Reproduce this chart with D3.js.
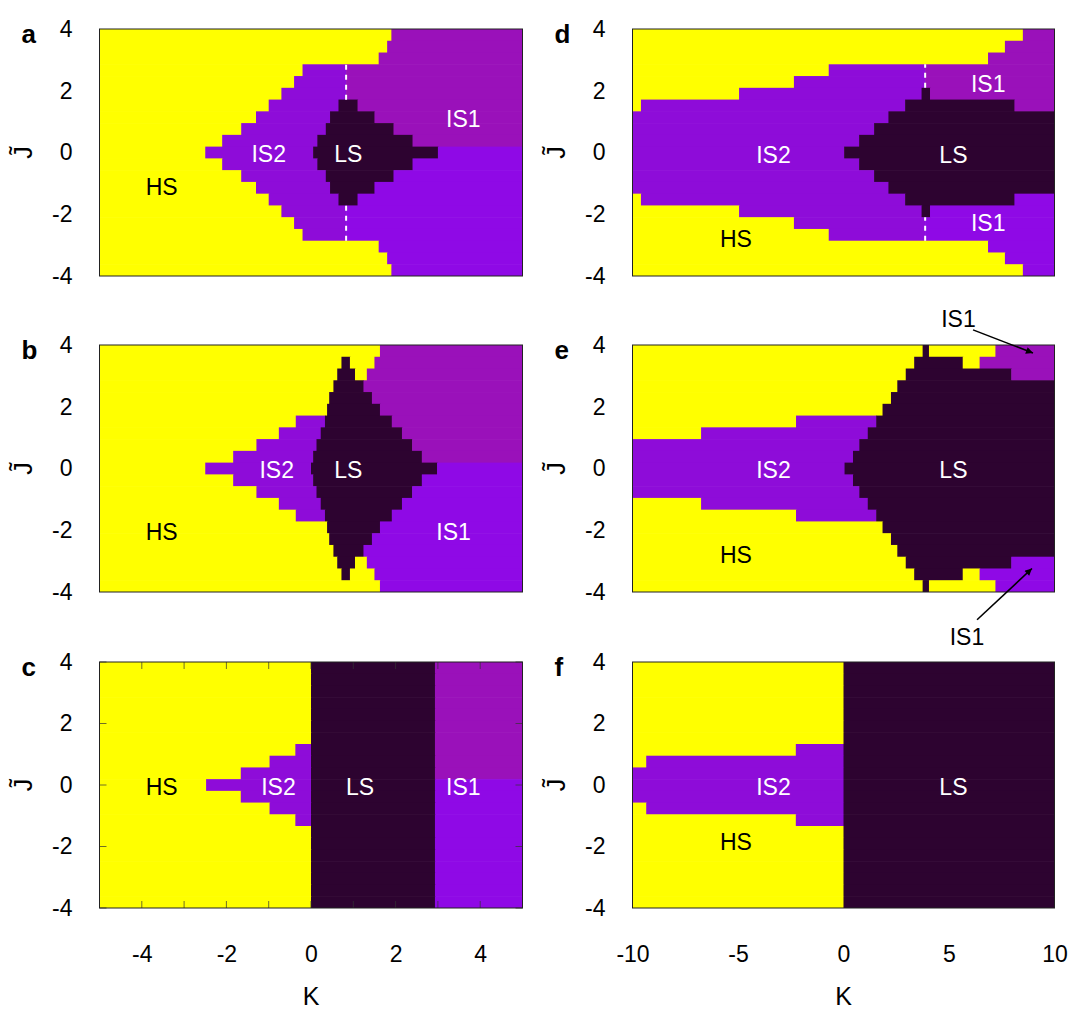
<!DOCTYPE html>
<html>
<head>
<meta charset="utf-8">
<script src="https://cdn.jsdelivr.net/npm/d3@7"></script>
<style>
  body { margin: 0; background: #fff; }
  text { font-family: "Liberation Sans", Arial, Helvetica, sans-serif; }
</style>
</head>
<body>
<svg id="chart" width="1075" height="1013"></svg>
<script>
// phase colours
var phaseColors = {
  HS: "#ffff00",
  IS2: "#8e0cd9",
  LS: "#2d0330",
  IS1u: "#9a11ba",
  IS1l: "#8f09e6"
};

var jTicks = [-4, -2, 0, 2, 4];
var kTicksLeft = [-4, -2, 0, 2, 4];
var kTicksRight = [-10, -5, 0, 5, 10];
var kMinorC = [-4, -3, -2, -1, 0, 1, 2, 3, 4];

// each row (top -> bottom, 21 rows over J in [-4,4]) : phase, K where it ends, phase, ...
var cellsA = [
  ["HS", 1.9, "IS1u", 5],
  ["HS", 1.8, "IS1u", 5],
  ["HS", 1.6, "IS1u", 5],
  ["HS", -0.2, "IS2", 0.83, "IS1u", 5],
  ["HS", -0.4, "IS2", 0.83, "IS1u", 5],
  ["HS", -0.7, "IS2", 0.83, "IS1u", 5],
  ["HS", -1.0, "IS2", 0.65, "LS", 1.1, "IS1u", 5],
  ["HS", -1.3, "IS2", 0.45, "LS", 1.5, "IS1u", 5],
  ["HS", -1.65, "IS2", 0.35, "LS", 1.95, "IS1u", 5],
  ["HS", -2.1, "IS2", 0.15, "LS", 2.4, "IS1u", 5],
  ["HS", -2.5, "IS2", 0.05, "LS", 3.0, "IS1l", 5],
  ["HS", -2.1, "IS2", 0.15, "LS", 2.4, "IS1l", 5],
  ["HS", -1.65, "IS2", 0.35, "LS", 1.95, "IS1l", 5],
  ["HS", -1.3, "IS2", 0.45, "LS", 1.5, "IS1l", 5],
  ["HS", -1.0, "IS2", 0.65, "LS", 1.1, "IS1l", 5],
  ["HS", -0.7, "IS2", 0.83, "IS1l", 5],
  ["HS", -0.4, "IS2", 0.83, "IS1l", 5],
  ["HS", -0.2, "IS2", 0.83, "IS1l", 5],
  ["HS", 1.6, "IS1l", 5],
  ["HS", 1.8, "IS1l", 5],
  ["HS", 1.9, "IS1l", 5]
];

var cellsB = [
  ["HS", 1.63, "IS1u", 5],
  ["HS", 0.72, "LS", 0.92, "HS", 1.5, "IS1u", 5],
  ["HS", 0.62, "LS", 1.04, "HS", 1.32, "IS1u", 5],
  ["HS", 0.53, "LS", 1.24, "IS1u", 5],
  ["HS", 0.43, "LS", 1.44, "IS1u", 5],
  ["HS", 0.38, "LS", 1.63, "IS1u", 5],
  ["HS", -0.36, "IS2", 0.33, "LS", 1.91, "IS1u", 5],
  ["HS", -0.76, "IS2", 0.23, "LS", 2.15, "IS1u", 5],
  ["HS", -1.29, "IS2", 0.13, "LS", 2.39, "IS1u", 5],
  ["HS", -1.84, "IS2", 0.05, "LS", 2.62, "IS1u", 5],
  ["HS", -2.5, "IS2", 0.0, "LS", 2.98, "IS1l", 5],
  ["HS", -1.84, "IS2", 0.05, "LS", 2.62, "IS1l", 5],
  ["HS", -1.29, "IS2", 0.13, "LS", 2.39, "IS1l", 5],
  ["HS", -0.76, "IS2", 0.23, "LS", 2.15, "IS1l", 5],
  ["HS", -0.36, "IS2", 0.33, "LS", 1.91, "IS1l", 5],
  ["HS", 0.38, "LS", 1.63, "IS1l", 5],
  ["HS", 0.43, "LS", 1.44, "IS1l", 5],
  ["HS", 0.53, "LS", 1.24, "IS1l", 5],
  ["HS", 0.62, "LS", 1.04, "HS", 1.32, "IS1l", 5],
  ["HS", 0.72, "LS", 0.92, "HS", 1.5, "IS1l", 5],
  ["HS", 1.63, "IS1l", 5]
];

var cellsC = [
  ["HS", 0, "LS", 2.93, "IS1u", 5],
  ["HS", 0, "LS", 2.93, "IS1u", 5],
  ["HS", 0, "LS", 2.93, "IS1u", 5],
  ["HS", 0, "LS", 2.93, "IS1u", 5],
  ["HS", 0, "LS", 2.93, "IS1u", 5],
  ["HS", 0, "LS", 2.93, "IS1u", 5],
  ["HS", 0, "LS", 2.93, "IS1u", 5],
  ["HS", -0.37, "IS2", 0, "LS", 2.93, "IS1u", 5],
  ["HS", -0.98, "IS2", 0, "LS", 2.93, "IS1u", 5],
  ["HS", -1.66, "IS2", 0, "LS", 2.93, "IS1u", 5],
  ["HS", -2.48, "IS2", 0, "LS", 2.93, "IS1l", 5],
  ["HS", -1.66, "IS2", 0, "LS", 2.93, "IS1l", 5],
  ["HS", -0.98, "IS2", 0, "LS", 2.93, "IS1l", 5],
  ["HS", -0.37, "IS2", 0, "LS", 2.93, "IS1l", 5],
  ["HS", 0, "LS", 2.93, "IS1l", 5],
  ["HS", 0, "LS", 2.93, "IS1l", 5],
  ["HS", 0, "LS", 2.93, "IS1l", 5],
  ["HS", 0, "LS", 2.93, "IS1l", 5],
  ["HS", 0, "LS", 2.93, "IS1l", 5],
  ["HS", 0, "LS", 2.93, "IS1l", 5],
  ["HS", 0, "LS", 2.93, "IS1l", 5]
];

var cellsD = [
  ["HS", 8.5, "IS1u", 10],
  ["HS", 7.65, "IS1u", 10],
  ["HS", 6.85, "IS1u", 10],
  ["HS", -0.7, "IS2", 3.87, "IS1u", 10],
  ["HS", -2.35, "IS2", 3.87, "IS1u", 10],
  ["HS", -4.95, "IS2", 3.7, "LS", 4.1, "IS1u", 10],
  ["HS", -9.6, "IS2", 2.92, "LS", 8.1, "IS1u", 10],
  ["IS2", 2.13, "LS", 10],
  ["IS2", 1.45, "LS", 10],
  ["IS2", 0.74, "LS", 10],
  ["IS2", 0.03, "LS", 10],
  ["IS2", 0.74, "LS", 10],
  ["IS2", 1.45, "LS", 10],
  ["IS2", 2.13, "LS", 10],
  ["HS", -9.6, "IS2", 2.92, "LS", 8.1, "IS1l", 10],
  ["HS", -4.95, "IS2", 3.7, "LS", 4.1, "IS1l", 10],
  ["HS", -2.35, "IS2", 3.87, "IS1l", 10],
  ["HS", -0.7, "IS2", 3.87, "IS1l", 10],
  ["HS", 6.85, "IS1l", 10],
  ["HS", 7.65, "IS1l", 10],
  ["HS", 8.5, "IS1l", 10]
];

var cellsE = [
  ["HS", 3.75, "LS", 4.05, "HS", 7.2, "IS1u", 10],
  ["HS", 3.35, "LS", 5.65, "HS", 6.45, "IS1u", 10],
  ["HS", 2.95, "LS", 7.95, "IS1u", 10],
  ["HS", 2.55, "LS", 10],
  ["HS", 2.25, "LS", 10],
  ["HS", 1.85, "LS", 10],
  ["HS", -2.25, "IS2", 1.55, "LS", 10],
  ["HS", -6.75, "IS2", 1.15, "LS", 10],
  ["IS2", 0.75, "LS", 10],
  ["IS2", 0.45, "LS", 10],
  ["IS2", 0.05, "LS", 10],
  ["IS2", 0.45, "LS", 10],
  ["IS2", 0.75, "LS", 10],
  ["HS", -6.75, "IS2", 1.15, "LS", 10],
  ["HS", -2.25, "IS2", 1.55, "LS", 10],
  ["HS", 1.85, "LS", 10],
  ["HS", 2.25, "LS", 10],
  ["HS", 2.55, "LS", 10],
  ["HS", 2.95, "LS", 7.95, "IS1l", 10],
  ["HS", 3.35, "LS", 5.65, "HS", 6.45, "IS1l", 10],
  ["HS", 3.75, "LS", 4.05, "HS", 7.2, "IS1l", 10]
];

var cellsF = [
  ["HS", 0, "LS", 10],
  ["HS", 0, "LS", 10],
  ["HS", 0, "LS", 10],
  ["HS", 0, "LS", 10],
  ["HS", 0, "LS", 10],
  ["HS", 0, "LS", 10],
  ["HS", 0, "LS", 10],
  ["HS", -2.26, "IS2", 0, "LS", 10],
  ["HS", -9.35, "IS2", 0, "LS", 10],
  ["IS2", 0, "LS", 10],
  ["IS2", 0, "LS", 10],
  ["IS2", 0, "LS", 10],
  ["HS", -9.35, "IS2", 0, "LS", 10],
  ["HS", -2.26, "IS2", 0, "LS", 10],
  ["HS", 0, "LS", 10],
  ["HS", 0, "LS", 10],
  ["HS", 0, "LS", 10],
  ["HS", 0, "LS", 10],
  ["HS", 0, "LS", 10],
  ["HS", 0, "LS", 10],
  ["HS", 0, "LS", 10]
];

// region names: text, K, J, colour
var namesA = [["HS", -3.53, -1.11, "#000"], ["IS2", -1.0, -0.05, "#fff"], ["LS", 0.88, -0.05, "#fff"], ["IS1", 3.6, 1.08, "#fff"]];
var namesB = [["HS", -3.53, -2.05, "#000"], ["IS2", -0.81, -0.05, "#fff"], ["LS", 0.88, -0.05, "#fff"], ["IS1", 3.37, -2.05, "#fff"]];
var namesC = [["HS", -3.53, -0.05, "#000"], ["IS2", -0.77, -0.05, "#fff"], ["LS", 1.16, -0.05, "#fff"], ["IS1", 3.6, -0.05, "#fff"]];
var namesD = [["IS2", -3.32, -0.08, "#fff"], ["LS", 5.21, -0.08, "#fff"], ["IS1", 6.86, 2.24, "#fff"], ["IS1", 6.86, -2.29, "#fff"], ["HS", -5.1, -2.78, "#000"]];
var namesE = [["IS2", -3.32, -0.05, "#fff"], ["LS", 5.21, -0.05, "#fff"], ["HS", -5.1, -2.8, "#000"]];
var namesF = [["IS2", -3.32, -0.05, "#fff"], ["LS", 5.21, -0.05, "#fff"], ["HS", -5.1, -1.84, "#000"]];

// white dashed boundaries: K, J from, J to
var dashA = [[0.83, 1.71, 2.86], [0.83, -2.86, -1.71]];
var dashD = [[3.87, 2.1, 2.86], [3.87, -2.86, -2.1]];

// arrows in panel e: text K,J ; arrow from K,J to K,J
var arrowsE = [
  { text: "IS1", tk: 5.45, tj: 4.85, k0: 6.14, j0: 4.49, k1: 8.98, j1: 3.74 },
  { text: "IS1", tk: 5.85, tj: -5.45, k0: 6.33, j0: -4.9, k1: 8.93, j1: -3.24 }
];

var colX = [[99.5, 522.5], [632.5, 1054.5]];
var rowY = [[29, 276], [345, 592], [662, 908]];

var panels = [
  { id: "a", col: 0, row: 0, kDom: [-5, 5], cells: cellsA, names: namesA, dash: dashA },
  { id: "b", col: 0, row: 1, kDom: [-5, 5], cells: cellsB, names: namesB },
  { id: "c", col: 0, row: 2, kDom: [-5, 5], cells: cellsC, names: namesC, minor: true },
  { id: "d", col: 1, row: 0, kDom: [-10, 10], cells: cellsD, names: namesD, dash: dashD },
  { id: "e", col: 1, row: 1, kDom: [-10, 10], cells: cellsE, names: namesE, arrows: arrowsE },
  { id: "f", col: 1, row: 2, kDom: [-10, 10], cells: cellsF, names: namesF }
];

var svg = d3.select("#chart");

svg.append("defs")
  .append("marker")
  .attr("id", "head")
  .attr("viewBox", "0 0 10 10")
  .attr("refX", 10)
  .attr("refY", 5)
  .attr("markerWidth", 10)
  .attr("markerHeight", 7)
  .attr("markerUnits", "userSpaceOnUse")
  .attr("orient", "auto")
  .append("path")
  .attr("d", "M0,0L10,5L0,10z")
  .attr("fill", "#000");

panels.forEach(function (p) {
  var x = d3.scaleLinear().domain(p.kDom).range(colX[p.col]);
  var y = d3.scaleLinear().domain([-4, 4]).range([rowY[p.row][1], rowY[p.row][0]]);
  var yb = d3.scaleBand().domain(d3.range(p.cells.length)).range(rowY[p.row]);
  var g = svg.append("g").attr("class", "panel-" + p.id);

  // split rows into segments
  var segs = [];
  p.cells.forEach(function (row, i) {
    var k0 = p.kDom[0];
    for (var s = 0; s < row.length; s += 2) {
      segs.push({ row: i, phase: row[s], k0: k0, k1: row[s + 1] });
      k0 = row[s + 1];
    }
  });

  g.selectAll("rect.cell")
    .data(segs)
    .join("rect")
    .attr("class", "cell")
    .attr("x", function (d) { return x(d.k0); })
    .attr("width", function (d) { return x(d.k1) - x(d.k0) + (d.k1 < p.kDom[1] ? 0.6 : 0); })
    .attr("y", function (d) { return yb(d.row); })
    .attr("height", function (d) { return yb.bandwidth() + (d.row < p.cells.length - 1 ? 0.6 : 0); })
    .attr("fill", function (d) { return phaseColors[d.phase]; });

  // inner tick marks (only visible in panel c)
  if (p.minor) {
    var tl = 7;
    g.selectAll("line.kt")
      .data(kMinorC)
      .join("line")
      .attr("x1", function (d) { return x(d); })
      .attr("x2", function (d) { return x(d); })
      .attr("y1", y(4))
      .attr("y2", y(4) + tl)
      .attr("stroke", "#333").attr("stroke-opacity", 0.7);
    g.selectAll("line.kb")
      .data(kMinorC)
      .join("line")
      .attr("x1", function (d) { return x(d); })
      .attr("x2", function (d) { return x(d); })
      .attr("y1", y(-4))
      .attr("y2", y(-4) - tl)
      .attr("stroke", "#333").attr("stroke-opacity", 0.7);
    g.selectAll("line.jl")
      .data(jTicks)
      .join("line")
      .attr("x1", x(p.kDom[0]))
      .attr("x2", x(p.kDom[0]) + tl)
      .attr("y1", function (d) { return y(d); })
      .attr("y2", function (d) { return y(d); })
      .attr("stroke", "#333").attr("stroke-opacity", 0.7);
    g.selectAll("line.jr")
      .data(jTicks)
      .join("line")
      .attr("x1", x(p.kDom[1]))
      .attr("x2", x(p.kDom[1]) - tl)
      .attr("y1", function (d) { return y(d); })
      .attr("y2", function (d) { return y(d); })
      .attr("stroke", "#333").attr("stroke-opacity", 0.7);
  }

  // dashed boundary
  if (p.dash) {
    g.selectAll("line.dash")
      .data(p.dash)
      .join("line")
      .attr("x1", function (d) { return x(d[0]); })
      .attr("x2", function (d) { return x(d[0]); })
      .attr("y1", function (d) { return y(d[1]); })
      .attr("y2", function (d) { return y(d[2]); })
      .attr("stroke", "#fff")
      .attr("stroke-width", 2)
      .attr("stroke-dasharray", "5,5");
  }

  // frame
  g.append("rect")
    .attr("x", colX[p.col][0])
    .attr("y", rowY[p.row][0])
    .attr("width", colX[p.col][1] - colX[p.col][0])
    .attr("height", rowY[p.row][1] - rowY[p.row][0])
    .attr("fill", "none")
    .attr("stroke", "#222")
    .attr("stroke-width", 1);

  // region names
  g.selectAll("text.name")
    .data(p.names)
    .join("text")
    .attr("class", "name")
    .attr("x", function (d) { return x(d[1]); })
    .attr("y", function (d) { return y(d[2]); })
    .attr("dy", "0.36em")
    .attr("text-anchor", "middle")
    .attr("font-size", 23)
    .attr("fill", function (d) { return d[3]; })
    .text(function (d) { return d[0]; });

  // arrows
  if (p.arrows) {
    g.selectAll("line.arrow")
      .data(p.arrows)
      .join("line")
      .attr("x1", function (d) { return x(d.k0); })
      .attr("y1", function (d) { return y(d.j0); })
      .attr("x2", function (d) { return x(d.k1); })
      .attr("y2", function (d) { return y(d.j1); })
      .attr("stroke", "#000")
      .attr("stroke-width", 1.6)
      .attr("marker-end", "url(#head)");
    g.selectAll("text.arrowtext")
      .data(p.arrows)
      .join("text")
      .attr("x", function (d) { return x(d.tk); })
      .attr("y", function (d) { return y(d.tj); })
      .attr("dy", "0.36em")
      .attr("text-anchor", "middle")
      .attr("font-size", 23)
      .attr("fill", "#000")
      .text(function (d) { return d.text; });
  }

  // y axis
  var ay = g.append("g")
    .attr("transform", "translate(" + colX[p.col][0] + ",0)")
    .call(d3.axisLeft(y).tickValues(jTicks).tickSize(0).tickPadding(27)
      .tickFormat(function (d) { return String(d); }));
  ay.select(".domain").remove();
  ay.selectAll("text").attr("font-size", 23).attr("font-family", null).attr("fill", "#000");

  // y label
  g.append("text")
    .attr("transform", "translate(" + (colX[p.col][0] - 68) + "," + y(0) + ") rotate(-90)")
    .attr("text-anchor", "middle")
    .attr("font-size", 25)
    .text("J\u0303");

  // panel letter
  g.append("text")
    .attr("x", colX[p.col][0] - 78)
    .attr("y", rowY[p.row][0] + 14)
    .attr("font-size", 26)
    .attr("font-weight", "bold")
    .text(p.id);

  // x axis on bottom row only
  if (p.row === 2) {
    var ax = g.append("g")
      .attr("transform", "translate(0," + rowY[p.row][1] + ")")
      .call(d3.axisBottom(x).tickValues(p.col === 0 ? kTicksLeft : kTicksRight)
        .tickSize(0).tickPadding(38).tickFormat(function (d) { return String(d); }));
    ax.select(".domain").remove();
    ax.selectAll("text").attr("font-size", 23).attr("font-family", null).attr("fill", "#000");
    g.append("text")
      .attr("x", x(0))
      .attr("y", rowY[p.row][1] + 97)
      .attr("text-anchor", "middle")
      .attr("font-size", 25)
      .text("K");
  }
});
</script>
</body>
</html>
